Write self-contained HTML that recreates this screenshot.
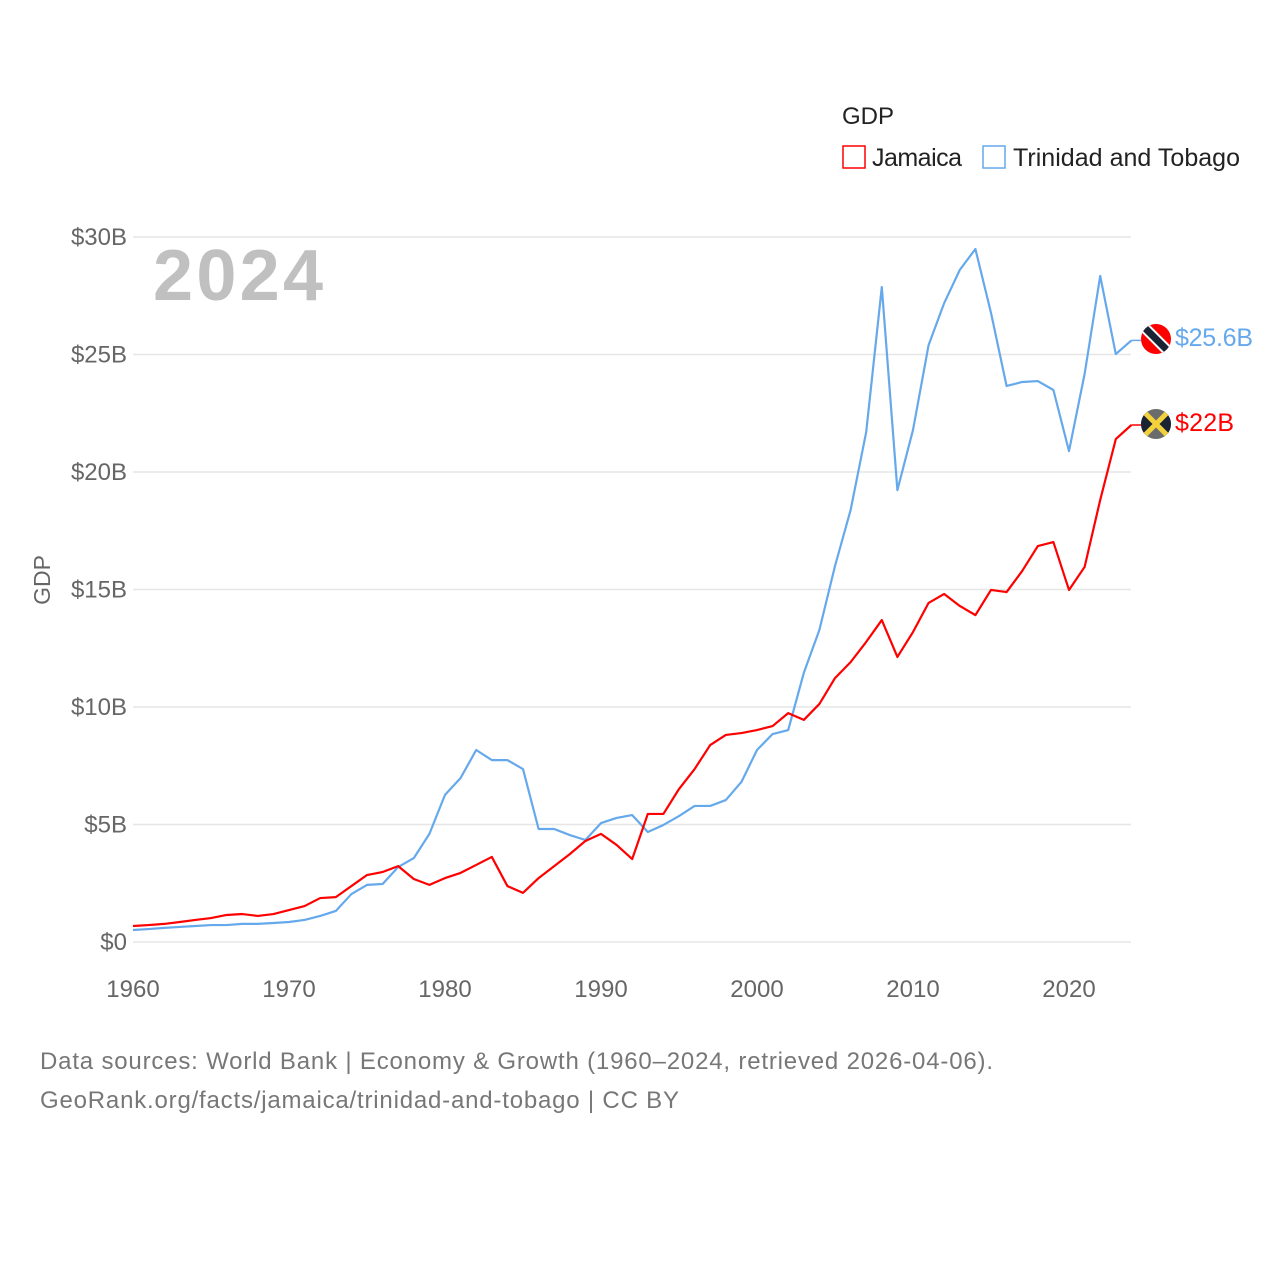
<!DOCTYPE html>
<html><head><meta charset="utf-8"><style>
body{margin:0;background:#fff;width:1280px;height:1280px;overflow:hidden}
svg text{font-family:"Liberation Sans",sans-serif}
</style></head><body>
<svg id="chart" width="1280" height="1280">
<g id="grid"></g>
<g id="yt"></g>
<g id="xt"></g>
<text x="153" y="300" font-size="72" font-weight="bold" fill="#c0c0c0" textLength="170">2024</text>
<text transform="translate(50,580) rotate(-90)" text-anchor="middle" font-size="23" fill="#666">GDP</text>
<g id="series"></g>
<g>
<text x="842" y="124" font-size="24" fill="#222">GDP</text>
<g><rect x="843" y="146" width="22" height="22" fill="none" stroke="#f00" stroke-width="1.5"/><text x="872" y="166" font-size="25" fill="#222" textLength="90">Jamaica</text></g>
<g><rect x="983" y="146" width="22" height="22" fill="none" stroke="#65a9ec" stroke-width="1.5"/><text x="1013" y="166" font-size="25" fill="#222" textLength="227">Trinidad and Tobago</text></g>
</g>
<text x="40" y="1069" font-size="24" fill="#777" textLength="953">Data sources: World Bank | Economy &amp; Growth (1960–2024, retrieved 2026-04-06).</text>
<text x="40" y="1108" font-size="24" fill="#777" textLength="639">GeoRank.org/facts/jamaica/trinidad-and-tobago | CC BY</text>
<defs>
<clipPath id="c1"><circle cx="1156" cy="339" r="15"/></clipPath>
<clipPath id="c2"><circle cx="1156" cy="424" r="15"/></clipPath>
</defs>
<g clip-path="url(#c1)">
<rect x="1140" y="323" width="32" height="32" fill="#f00"/>
<line x1="1140" y1="323" x2="1172" y2="355" stroke="#fff" stroke-width="11"/>
<line x1="1140" y1="323" x2="1172" y2="355" stroke="#1a2333" stroke-width="7"/>
</g>
<g clip-path="url(#c2)">
<rect x="1140" y="408" width="32" height="32" fill="#6b6b6b"/>
<polygon points="1140,408 1156,424 1140,440" fill="#1a2333"/>
<polygon points="1172,408 1156,424 1172,440" fill="#1a2333"/>
<line x1="1140" y1="408" x2="1172" y2="440" stroke="#f2d13a" stroke-width="5"/>
<line x1="1172" y1="408" x2="1140" y2="440" stroke="#f2d13a" stroke-width="5"/>
</g>
<text x="1175" y="346" font-size="25" fill="#65a9ec" textLength="78">$25.6B</text>
<text x="1175" y="431" font-size="25" fill="#f00" textLength="59">$22B</text>
</svg>
<script>
const years=[];for(let y=1960;y<=2024;y++)years.push(y);
const jamaica=[0.68,0.72,0.77,0.85,0.94,1.02,1.15,1.19,1.11,1.19,1.36,1.53,1.87,1.91,2.38,2.85,2.98,3.23,2.68,2.43,2.72,2.94,3.28,3.62,2.38,2.09,2.72,3.23,3.74,4.30,4.60,4.13,3.53,5.45,5.45,6.51,7.36,8.38,8.81,8.89,9.02,9.19,9.74,9.45,10.13,11.23,11.91,12.77,13.70,12.13,13.19,14.43,14.81,14.30,13.91,14.98,14.89,15.79,16.85,17.02,14.98,15.96,18.81,21.40,22.0];
const trinidad=[0.51,0.55,0.60,0.64,0.68,0.72,0.72,0.77,0.77,0.81,0.85,0.94,1.11,1.32,2.04,2.43,2.47,3.19,3.57,4.60,6.26,6.98,8.17,7.74,7.74,7.36,4.81,4.81,4.55,4.34,5.06,5.28,5.40,4.68,4.98,5.36,5.79,5.79,6.04,6.81,8.17,8.85,9.02,11.45,13.28,16.0,18.38,21.70,27.87,19.23,21.79,25.40,27.19,28.60,29.49,26.77,23.66,23.83,23.87,23.49,20.89,24.17,28.34,25.02,25.6];
const yTicks=[0,5,10,15,20,25,30];
const yTickLabels=["$0","$5B","$10B","$15B","$20B","$25B","$30B"];
const xTicks=[1960,1970,1980,1990,2000,2010,2020];
const NS="http://www.w3.org/2000/svg";
const X=y=>133+(y-1960)*15.6, Y=v=>942-v*23.5;
function mk(t,a,p){const e=document.createElementNS(NS,t);for(const k in a)e.setAttribute(k,a[k]);p.appendChild(e);return e;}
const grid=document.getElementById('grid'),yt=document.getElementById('yt'),xt=document.getElementById('xt'),ser=document.getElementById('series');
yTicks.forEach((v,i)=>{
 const l=mk('line',{x1:133,x2:1131,y1:Y(v),y2:Y(v),stroke:'#e6e6e6','stroke-width':1.5},grid);
 
 
 const t=mk('text',{x:127,y:Y(v)+8,'text-anchor':'end','font-size':24,fill:'#666'},yt);
 t.textContent=yTickLabels[i];
 
 
});
xTicks.forEach(v=>{
 const t=mk('text',{x:X(v),y:997,'text-anchor':'middle','font-size':24,fill:'#666'},xt);
 t.textContent=v;
 
 
});
function line(vals,col,name){
 const p=mk('polyline',{points:vals.map((v,i)=>X(years[i])+','+Y(v)).join(' '),fill:'none',stroke:col,'stroke-width':2.2,'stroke-linejoin':'round'},ser);
 
 
 const last=vals[vals.length-1];
 const c=mk('line',{x1:X(2024),x2:1141,y1:Y(last),y2:Y(last),stroke:col,'stroke-width':1.5},ser);
 
 
}
line(trinidad,'#65a9ec','trinidad-line');
line(jamaica,'#f00','jamaica-line');
</script>
</body></html>
